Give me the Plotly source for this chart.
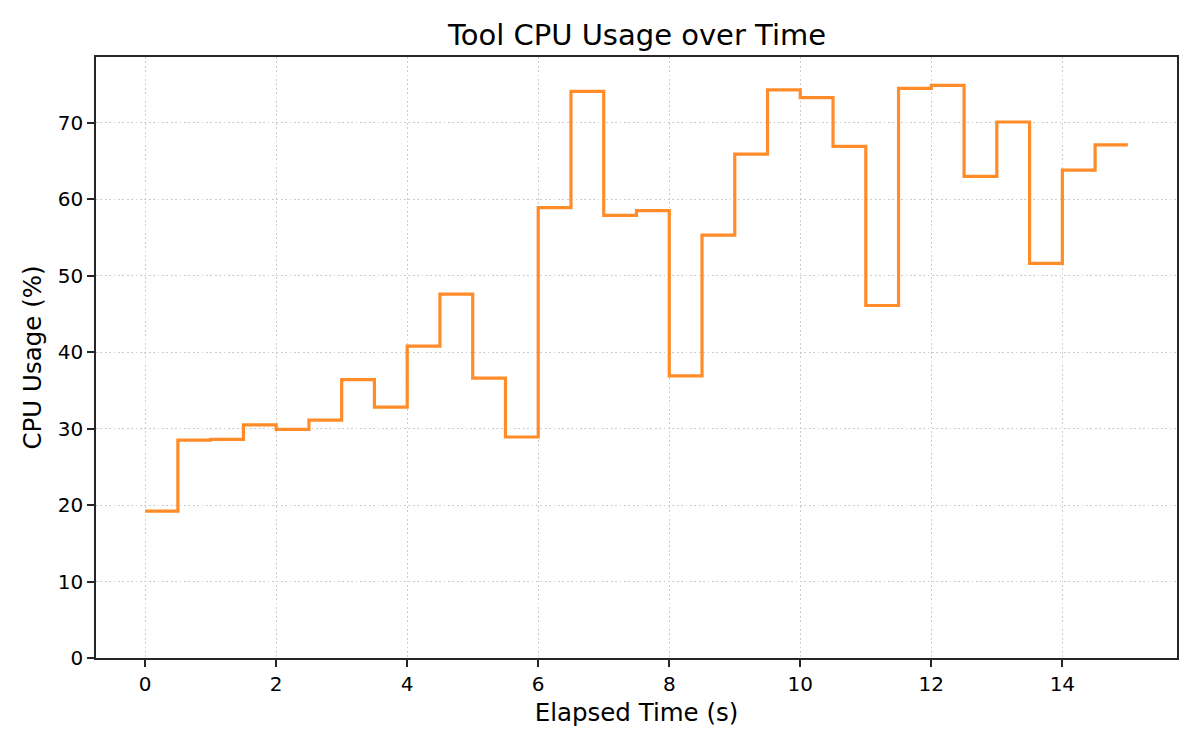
import plotly.graph_objects as go

# Elapsed time (s) and CPU usage (%) samples, drawn as a post-step line
elapsed_s = [0.0, 0.5, 1.0, 1.5, 2.0, 2.5, 3.0, 3.5, 4.0, 4.5,
             5.0, 5.5, 6.0, 6.5, 7.0, 7.5, 8.0, 8.5, 9.0, 9.5,
             10.0, 10.5, 11.0, 11.5, 12.0, 12.5, 13.0, 13.5, 14.0, 14.5, 15.0]
cpu_pct = [19.2, 28.5, 28.6, 30.5, 29.9, 31.1, 36.4, 32.8, 40.8, 47.6,
           36.6, 28.9, 58.9, 74.1, 57.9, 58.5, 36.9, 55.3, 65.9, 74.3,
           73.3, 66.9, 46.1, 74.5, 74.9, 63.0, 70.1, 51.6, 63.8, 67.1, 67.1]

x_ticks = [0, 2, 4, 6, 8, 10, 12, 14]
y_ticks = [0, 10, 20, 30, 40, 50, 60, 70]

font_family = "DejaVu Sans"
axis_color = "#262626"
grid_color = "#cccccc"

# page body has an 8px margin, so the figure is a little smaller than the window
W, H = 1192, 742

fig = go.Figure()
fig.add_trace(go.Scatter(x=elapsed_s, y=cpu_pct, mode="lines",
                         line=dict(color="#ff8c28", width=3.2, shape="hv"),
                         showlegend=False))

common_axis = dict(showline=True, linecolor=axis_color, linewidth=1.6, mirror=True,
                   ticks="outside", ticklen=7, tickwidth=1.6, tickcolor=axis_color,
                   showgrid=True, gridcolor=grid_color, griddash="1.7px,2.7px", gridwidth=1.4,
                   zeroline=False,
                   tickfont=dict(family=font_family, size=20, color="black"))

fig.update_xaxes(range=[-0.75, 15.75], tickvals=x_ticks,
                 title=dict(text="Elapsed Time (s)", standoff=9,
                            font=dict(family=font_family, size=24.5, color="black")),
                 **common_axis)
fig.update_yaxes(range=[0, 78.6], tickvals=y_ticks,
                 title=dict(text="CPU Usage (%)", standoff=9,
                            font=dict(family=font_family, size=24.5, color="black")),
                 **common_axis)

fig.update_layout(
    width=W, height=H,
    paper_bgcolor="white", plot_bgcolor="white",
    margin=dict(l=88, r=23, t=49, b=92),
    title=dict(text="Tool CPU Usage over Time", x=(637 - 8) / W, xanchor="center",
               y=1 - 27 / H, yanchor="middle",
               font=dict(family=font_family, size=29, color="black")),
)

fig.write_html("out.html")
